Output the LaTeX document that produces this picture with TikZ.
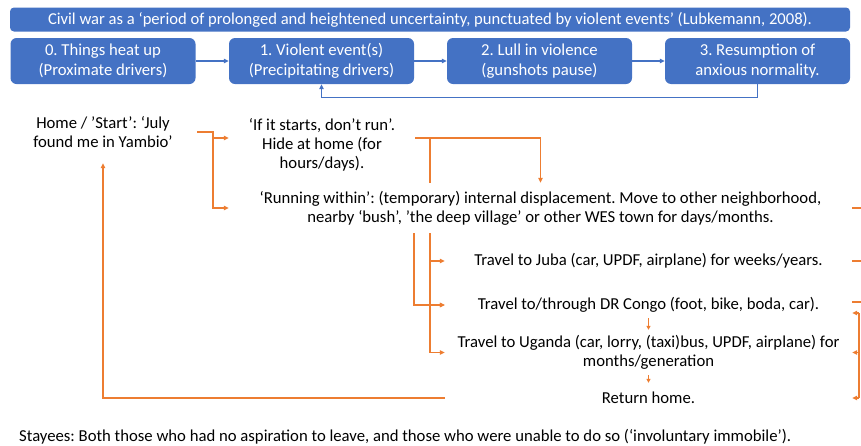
\documentclass[tikz,border=0pt]{standalone}
\usepackage{fontspec}
\setmainfont{Carlito}
\usetikzlibrary{arrows.meta}
\definecolor{pblue}{HTML}{4472C4}
\definecolor{porange}{HTML}{ED7D31}
\begin{document}
\frenchspacing
\begin{tikzpicture}[x=1pt,y=-1pt,
  txt/.style={font=\fontsize{16.7}{19}\selectfont, align=center, inner sep=0pt},
  bbox/.style={fill=pblue, rounded corners=6pt, text=white, minimum width=185pt, minimum height=46pt, font=\fontsize{16.7}{19.5}\selectfont, align=center, inner sep=0pt},
  barrow/.style={draw=pblue, line width=1.2pt, -{Triangle[length=5pt,width=4.5pt]}},
  oline/.style={draw=porange, line width=1.5pt},
  oarrow/.style={oline, -{Triangle[length=5pt,width=4.5pt]}},
  osmall/.style={draw=porange, line width=1pt, -{Triangle[length=4pt,width=4pt]}}]
\useasboundingbox (0,0) rectangle (861,445);

\node[fill=pblue, rounded corners=4pt, minimum width=840pt, minimum height=24pt, inner sep=0pt, text=white, font=\fontsize{16.6}{19}\selectfont] (banner) at (430,19.5) {Civil war as a ‘period of prolonged and heightened uncertainty, punctuated by violent events’ (Lubkemann, 2008).};

\node[bbox] (b0) at (103,61) {0. Things heat up\\(Proximate drivers)};
\node[bbox] (b1) at (321.5,61) {1. Violent event(s)\\(Precipitating drivers)};
\node[bbox] (b2) at (539.5,61) {2. Lull in violence\\(gunshots pause)};
\node[bbox] (b3) at (757.5,61) {3. Resumption of\\anxious normality.};

\draw[barrow] (b0.east) -- (b1.west);
\draw[barrow] (b1.east) -- (b2.west);
\draw[barrow] (b2.east) -- (b3.west);
\draw[barrow] (b3.south) -- ++(0,13) -| (b1.south);

\node[txt, minimum width=188pt, minimum height=62pt] (home) at (103,132) {Home / ’Start’: ‘July\\found me in Yambio’};
\node[txt, minimum width=186pt] (hide) at (322,145) {‘If it starts, don’t run’.\\Hide at home (for\\hours/days).};
\node[txt, minimum width=623pt, minimum height=50pt] (run) at (540.5,208) {‘Running within’: (temporary) internal displacement. Move to other neighborhood,\\nearby ‘bush’, ’the deep village’ or other WES town for days/months.};
\node[txt, minimum width=407pt, minimum height=20pt] (juba) at (648.5,261) {Travel to Juba (car, UPDF, airplane) for weeks/years.};
\node[txt, minimum width=407pt, minimum height=26pt] (congo) at (648.5,305) {Travel to/through DR Congo (foot, bike, boda, car).};
\node[txt, minimum width=407pt, minimum height=45pt] (uganda) at (648.5,352.5) {Travel to Uganda (car, lorry, (taxi)bus, UPDF, airplane) for\\months/generation};
\node[txt, minimum width=407pt, minimum height=30pt] (ret) at (648.5,398) {Return home.};
\node[txt, anchor=west] (stay) at (19,437) {Stayees: Both those who had no aspiration to leave, and those who were unable to do so (‘involuntary immobile’).};

% home to first choices
\coordinate (j1) at (213,132);
\draw[oarrow] (home.east) -- (j1) |- ([yshift=7pt]hide.west);
\draw[oarrow] (j1) |- (run.west);

% hide to others
\coordinate (t1) at (430,138);
\coordinate (t2) at (414,138);
\draw[oarrow] ([yshift=7pt]hide.east) -| (run.north);
\draw[oline] (t1) -- (t1 |- run.north);
\draw[oarrow] (t1 |- run.south) |- (juba.west);
\draw[oarrow] (t1 |- run.south) |- (congo.west);
\draw[oarrow] (t1 |- run.south) |- (uganda.west);
\draw[oarrow] (t2 |- run.south) |- (congo.west);

% chain
\draw[osmall] (congo.south) -- (uganda.north);
\draw[osmall] (uganda.south) -- (ret.north);

% return
\draw[oarrow] (ret.west) -| (home.south);

% right side
\draw[oline] (run.east) -- ++(10,0);
\draw[oline] (juba.east) -- ++(10,0);
\draw[oline] ([yshift=3pt]congo.east) -- ++(10,0);
\coordinate (rb) at (859,313);
\draw[oarrow] (rb) -- (rb -| congo.east);
\draw[oline] (rb) -- (rb |- ret.east);
\draw[oarrow] (rb |- uganda.east) -- (uganda.east);
\draw[oarrow] (rb |- ret.east) -- (ret.east);
\end{tikzpicture}
\end{document}
